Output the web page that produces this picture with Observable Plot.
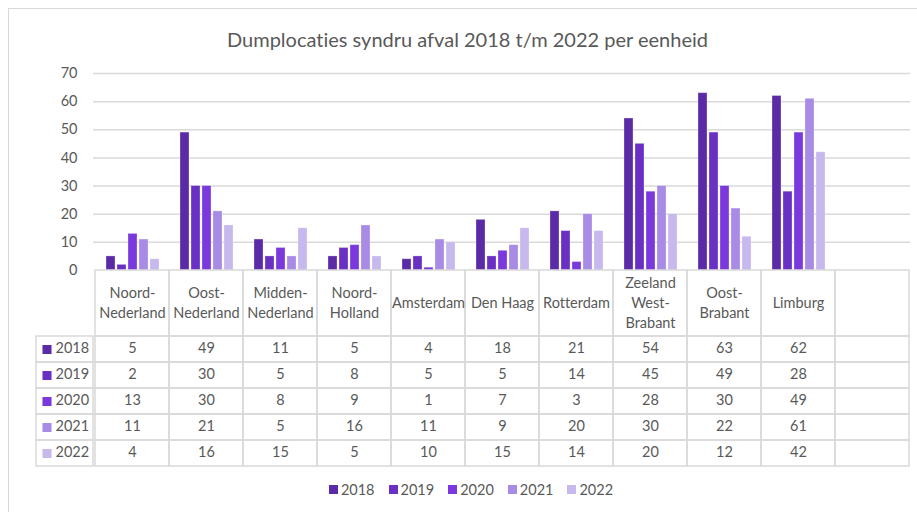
<!DOCTYPE html>
<html>
<head>
<meta charset="utf-8">
<script src="https://cdn.jsdelivr.net/npm/d3@7"></script>
<script src="https://cdn.jsdelivr.net/npm/@observablehq/plot@0.6"></script>
<style>
  html, body { margin: 0; padding: 0; background: #fff; }
  #root { position: relative; width: 917px; height: 512px; overflow: hidden; font-family: Lato, "Open Sans", sans-serif; color: #595959; font-variant-ligatures: none; }
  #root svg, #root svg text { font-variant-ligatures: none; }
  #frame { position: absolute; left: 8px; top: 8px; width: 1000px; height: 600px; border-left: 1.5px solid #d9d9d9; border-top: 1.5px solid #d9d9d9; }
  #title { position: absolute; left: 0; top: 27px; width: 935px; text-align: center; font-size: 20px; color: #595959; }
  .layer { position: absolute; }
  .layer svg { background: transparent !important; }
  #legend { position: absolute; left: 0; top: 481px; width: 942px; display: flex; justify-content: center; gap: 14px; font-size: 14.5px; }
  #legend .item { display: flex; align-items: center; }
  #legend .sw { width: 9px; height: 9px; margin-right: 3px; display: inline-block; }
</style>
</head>
<body>
<div id="root">
  <div id="frame"></div>
  <div id="title"></div>
  <div id="legend"></div>
</div>
<script>
const title = "Dumplocaties syndru afval 2018 t/m 2022 per eenheid";
const categories = ["Noord-Nederland","Oost-Nederland","Midden-Nederland","Noord-Holland","Amsterdam","Den Haag","Rotterdam","Zeeland West-Brabant","Oost-Brabant","Limburg"];
const categoryLabels = ["Noord-\nNederland","Oost-\nNederland","Midden-\nNederland","Noord-\nHolland","Amsterdam","Den Haag","Rotterdam","Zeeland\nWest-\nBrabant","Oost-\nBrabant","Limburg"];
const years = ["2018","2019","2020","2021","2022"];
const v2018 = [5,49,11,5,4,18,21,54,63,62];
const v2019 = [2,30,5,8,5,5,14,45,49,28];
const v2020 = [13,30,8,9,1,7,3,28,30,49];
const v2021 = [11,21,5,16,11,9,20,30,22,61];
const v2022 = [4,16,15,5,10,15,14,20,12,42];
const yearColors = ["#5b2aa6","#6a2fc3","#7b38dd","#a78be5","#c7b8ed"];
const yTicks = [0,10,20,30,40,50,60,70];

const series = [v2018, v2019, v2020, v2021, v2022];
const rows = [];
categories.forEach((c, i) => years.forEach((y, j) => rows.push({cat: c, year: y, value: series[j][i]})));
const emptySlot = " ";
const allCats = [...categories, emptySlot];
const labelOf = new Map(categories.map((c, i) => [c, categoryLabels[i]]));

const W = 917;
const FS = 14.5;
const common = {
  width: W, marginLeft: 93, marginRight: 7,
  style: {fontFamily: "Lato, 'Open Sans', sans-serif", fontSize: FS + "px", color: "#595959", background: "transparent", overflow: "visible"}
};
const color = {domain: years, range: yearColors};
const gridColor = "#d9d9d9";

function place(node, left, top) {
  const d = document.createElement("div");
  d.className = "layer";
  d.style.left = left + "px";
  d.style.top = top + "px";
  d.appendChild(node);
  document.getElementById("root").appendChild(d);
}

document.getElementById("title").textContent = title;

// base: grid + y axis
const base = Plot.plot({
  ...common, height: 280, marginTop: 73, marginBottom: 10,
  y: {domain: [0, 70], axis: null},
  marks: [
    Plot.gridY(yTicks.filter(t => t > 0), {stroke: gridColor, strokeOpacity: 1, strokeWidth: 1.5}),
    Plot.axisY(yTicks, {tickSize: 0, tickPadding: 16, fontSize: FS, label: null})
  ]
});
place(base, 0, 0);

// bars (faceted by category)
const bars = Plot.plot({
  ...common, height: 280, marginTop: 73, marginBottom: 10,
  facet: {data: rows, x: "cat"},
  fx: {domain: allCats, padding: 0, axis: null},
  x: {domain: years, paddingInner: 0.2, paddingOuter: 0.89, axis: null},
  y: {domain: [0, 70], axis: null},
  color,
  marks: [
    Plot.barY(rows, {x: "year", y: "value", fill: "year", stroke: "#ffffff", strokeOpacity: 0.35, strokeWidth: 0.8})
  ]
});
place(bars, 0, 0);

// table header: category labels
const header = Plot.plot({
  ...common, height: 68, marginTop: 1, marginBottom: 1,
  x: {domain: allCats, padding: 0, axis: null},
  marks: [
    Plot.cell(allCats, {x: d => d, fill: "none", stroke: gridColor, strokeWidth: 1.5}),
    Plot.text(categories, {x: d => d, text: d => labelOf.get(d), frameAnchor: "middle", dy: -2, lineHeight: 1.38, fontSize: FS})
  ]
});
place(header, 0, 269);

// table body: values
const cellsAll = [];
allCats.forEach(c => years.forEach(y => cellsAll.push({cat: c, year: y})));
const body = Plot.plot({
  ...common, height: 132, marginTop: 1, marginBottom: 1,
  x: {domain: allCats, padding: 0, axis: null},
  y: {domain: years, padding: 0, axis: null},
  marks: [
    Plot.cell(cellsAll, {x: "cat", y: "year", fill: "none", stroke: gridColor, strokeWidth: 1.5}),
    Plot.text(rows, {x: "cat", y: "year", text: d => String(d.value), dy: -1, fontSize: FS})
  ]
});
place(body, 0, 335);

// table key column
const key = Plot.plot({
  width: 59, height: 132, marginLeft: 1, marginRight: 1, marginTop: 1, marginBottom: 1,
  style: common.style,
  y: {domain: years, padding: 0, axis: null},
  color,
  marks: [
    Plot.cell(years, {y: d => d, fill: "none", stroke: gridColor, strokeWidth: 1.5}),
    Plot.dot(years, {y: d => d, frameAnchor: "left", dx: 10.5, symbol: "square", r: 5.1, fill: d => d, stroke: null}),
    Plot.text(years, {y: d => d, frameAnchor: "left", dx: 19, dy: -1, textAnchor: "start", text: d => d, fontSize: FS})
  ]
});
place(key, 35, 335);

// legend
const leg = document.getElementById("legend");
years.forEach((y, i) => {
  const it = document.createElement("div");
  it.className = "item";
  const sw = document.createElement("span");
  sw.className = "sw";
  sw.style.background = yearColors[i];
  const t = document.createElement("span");
  t.textContent = y;
  it.appendChild(sw); it.appendChild(t);
  leg.appendChild(it);
});
</script>
</body>
</html>
